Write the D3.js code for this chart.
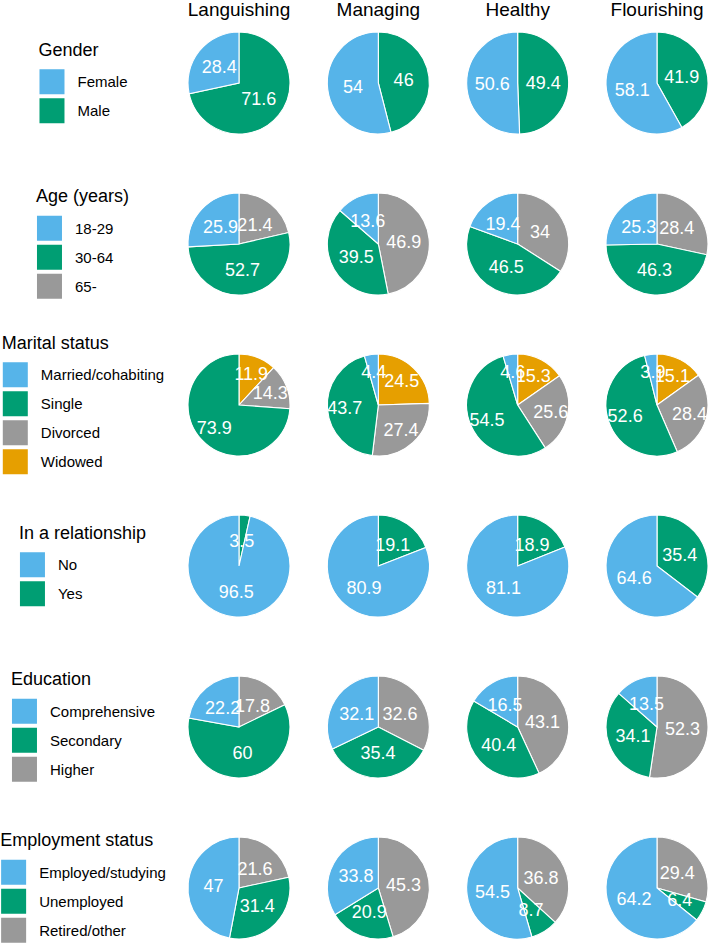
<!DOCTYPE html>
<html>
<head>
<meta charset="utf-8">
<script src="https://cdn.jsdelivr.net/npm/d3@7"></script>
<style>
  html, body { margin: 0; padding: 0; background: #fff; }
  svg { display: block; font-family: "Liberation Sans", Arial, Helvetica, sans-serif; }
</style>
</head>
<body>
<svg id="chart" width="709" height="945"></svg>
<script>
// ---- Data ----
const groups = ["Languishing", "Managing", "Healthy", "Flourishing"];

const genderCats = ["Female", "Male"];
const genderVals = [[28.4, 71.6], [54, 46], [50.6, 49.4], [58.1, 41.9]];

const ageCats = ["18-29", "30-64", "65-"];
const ageVals = [[25.9, 52.7, 21.4], [13.6, 39.5, 46.9], [19.4, 46.5, 34], [25.3, 46.3, 28.4]];

const maritalCats = ["Married/cohabiting", "Single", "Divorced", "Widowed"];
const maritalVals = [[0, 73.9, 14.3, 11.9], [4.4, 43.7, 27.4, 24.5], [4.6, 54.5, 25.6, 15.3], [3.9, 52.6, 28.4, 15.1]];

const relCats = ["No", "Yes"];
const relVals = [[96.5, 3.5], [80.9, 19.1], [81.1, 18.9], [64.6, 35.4]];

const eduCats = ["Comprehensive", "Secondary", "Higher"];
const eduVals = [[22.2, 60, 17.8], [32.1, 35.4, 32.6], [16.5, 40.4, 43.1], [13.5, 34.1, 52.3]];

const empCats = ["Employed/studying", "Unemployed", "Retired/other"];
const empVals = [[47, 31.4, 21.6], [33.8, 20.9, 45.3], [54.5, 8.7, 36.8], [64.2, 6.4, 29.4]];

const variables = [
  { title: "Gender", cats: genderCats, vals: genderVals, lab: 0.5 },
  { title: "Age (years)", cats: ageCats, vals: ageVals, lab: 0.5 },
  { title: "Marital status", cats: maritalCats, vals: maritalVals, lab: 0.66 },
  { title: "In a relationship", cats: relCats, vals: relVals, lab: 0.5 },
  { title: "Education", cats: eduCats, vals: eduVals, lab: 0.5 },
  { title: "Employment status", cats: empCats, vals: empVals, lab: 0.5 }
];

const palette = ["#56B4E9", "#009E73", "#999999", "#E69F00"];

// ---- Layout ----
const svg = d3.select("#chart");
const colX = d3.scalePoint().domain(groups).range([239, 657]);
const rowY = d3.scalePoint().domain(variables.map(v => v.title)).range([83, 888]);
const R = 51;

const arc = d3.arc().innerRadius(0).outerRadius(R);

// column titles
svg.selectAll("text.coltitle").data(groups).join("text")
  .attr("class", "coltitle")
  .attr("x", d => colX(d)).attr("y", 16)
  .attr("text-anchor", "middle")
  .attr("font-size", 19).attr("fill", "#000")
  .text(d => d);

variables.forEach(v => {
  const cy = rowY(v.title);
  const color = d3.scaleOrdinal().domain(v.cats).range(palette.slice(0, v.cats.length));
  const labelArc = d3.arc().innerRadius(R * v.lab).outerRadius(R * v.lab);

  // pies
  groups.forEach((g, gi) => {
    const data = v.cats.map((c, i) => ({ cat: c, value: v.vals[gi][i] }));
    // ggplot stacking: last level starts at 12 o'clock clockwise
    const pie = d3.pie().sort(null).value(d => d.value);
    const arcs = pie(data.slice().reverse()).filter(a => a.data.value > 0);
    const gEl = svg.append("g").attr("transform", `translate(${colX(g)},${cy})`);
    gEl.selectAll("path").data(arcs).join("path")
      .attr("d", arc)
      .attr("fill", d => color(d.data.cat))
      .attr("stroke", "#fff").attr("stroke-width", 1.1);
    gEl.selectAll("text").data(arcs).join("text")
      .attr("transform", d => `translate(${labelArc.centroid(d)})`)
      .attr("text-anchor", "middle")
      .attr("dy", "0.36em")
      .attr("font-size", 18).attr("fill", "#fff")
      .text(d => d.data.value);
  });

  // legend
  const n = v.cats.length;
  const pitch = 29, key = 25;
  const blockH = 13 + 13.5 + pitch * n - 4;
  const top = cy - blockH / 2;
  const lg = svg.append("g");
  const title = lg.append("text").attr("y", top + 13).attr("font-size", 18).attr("fill", "#000").text(v.title);
  const items = lg.selectAll("g.item").data(v.cats).join("g").attr("class", "item");
  const keyTop = top + 13 + 13.5;
  items.append("rect")
    .attr("y", (d, i) => keyTop + i * pitch)
    .attr("width", key).attr("height", key)
    .attr("fill", d => color(d));
  const labels = items.append("text")
    .attr("y", (d, i) => keyTop + i * pitch + key / 2)
    .attr("dy", "0.36em")
    .attr("font-size", 15).attr("fill", "#000")
    .text(d => d);
  const titleW = title.node().getComputedTextLength();
  let maxLab = 0;
  labels.each(function () { maxLab = Math.max(maxLab, this.getComputedTextLength()); });
  const w = Math.max(titleW, 38 + maxLab);
  const left = 82.5 - w / 2;
  title.attr("x", left);
  items.select("rect").attr("x", left + 1);
  labels.attr("x", left + 39);
});
</script>
</body>
</html>
